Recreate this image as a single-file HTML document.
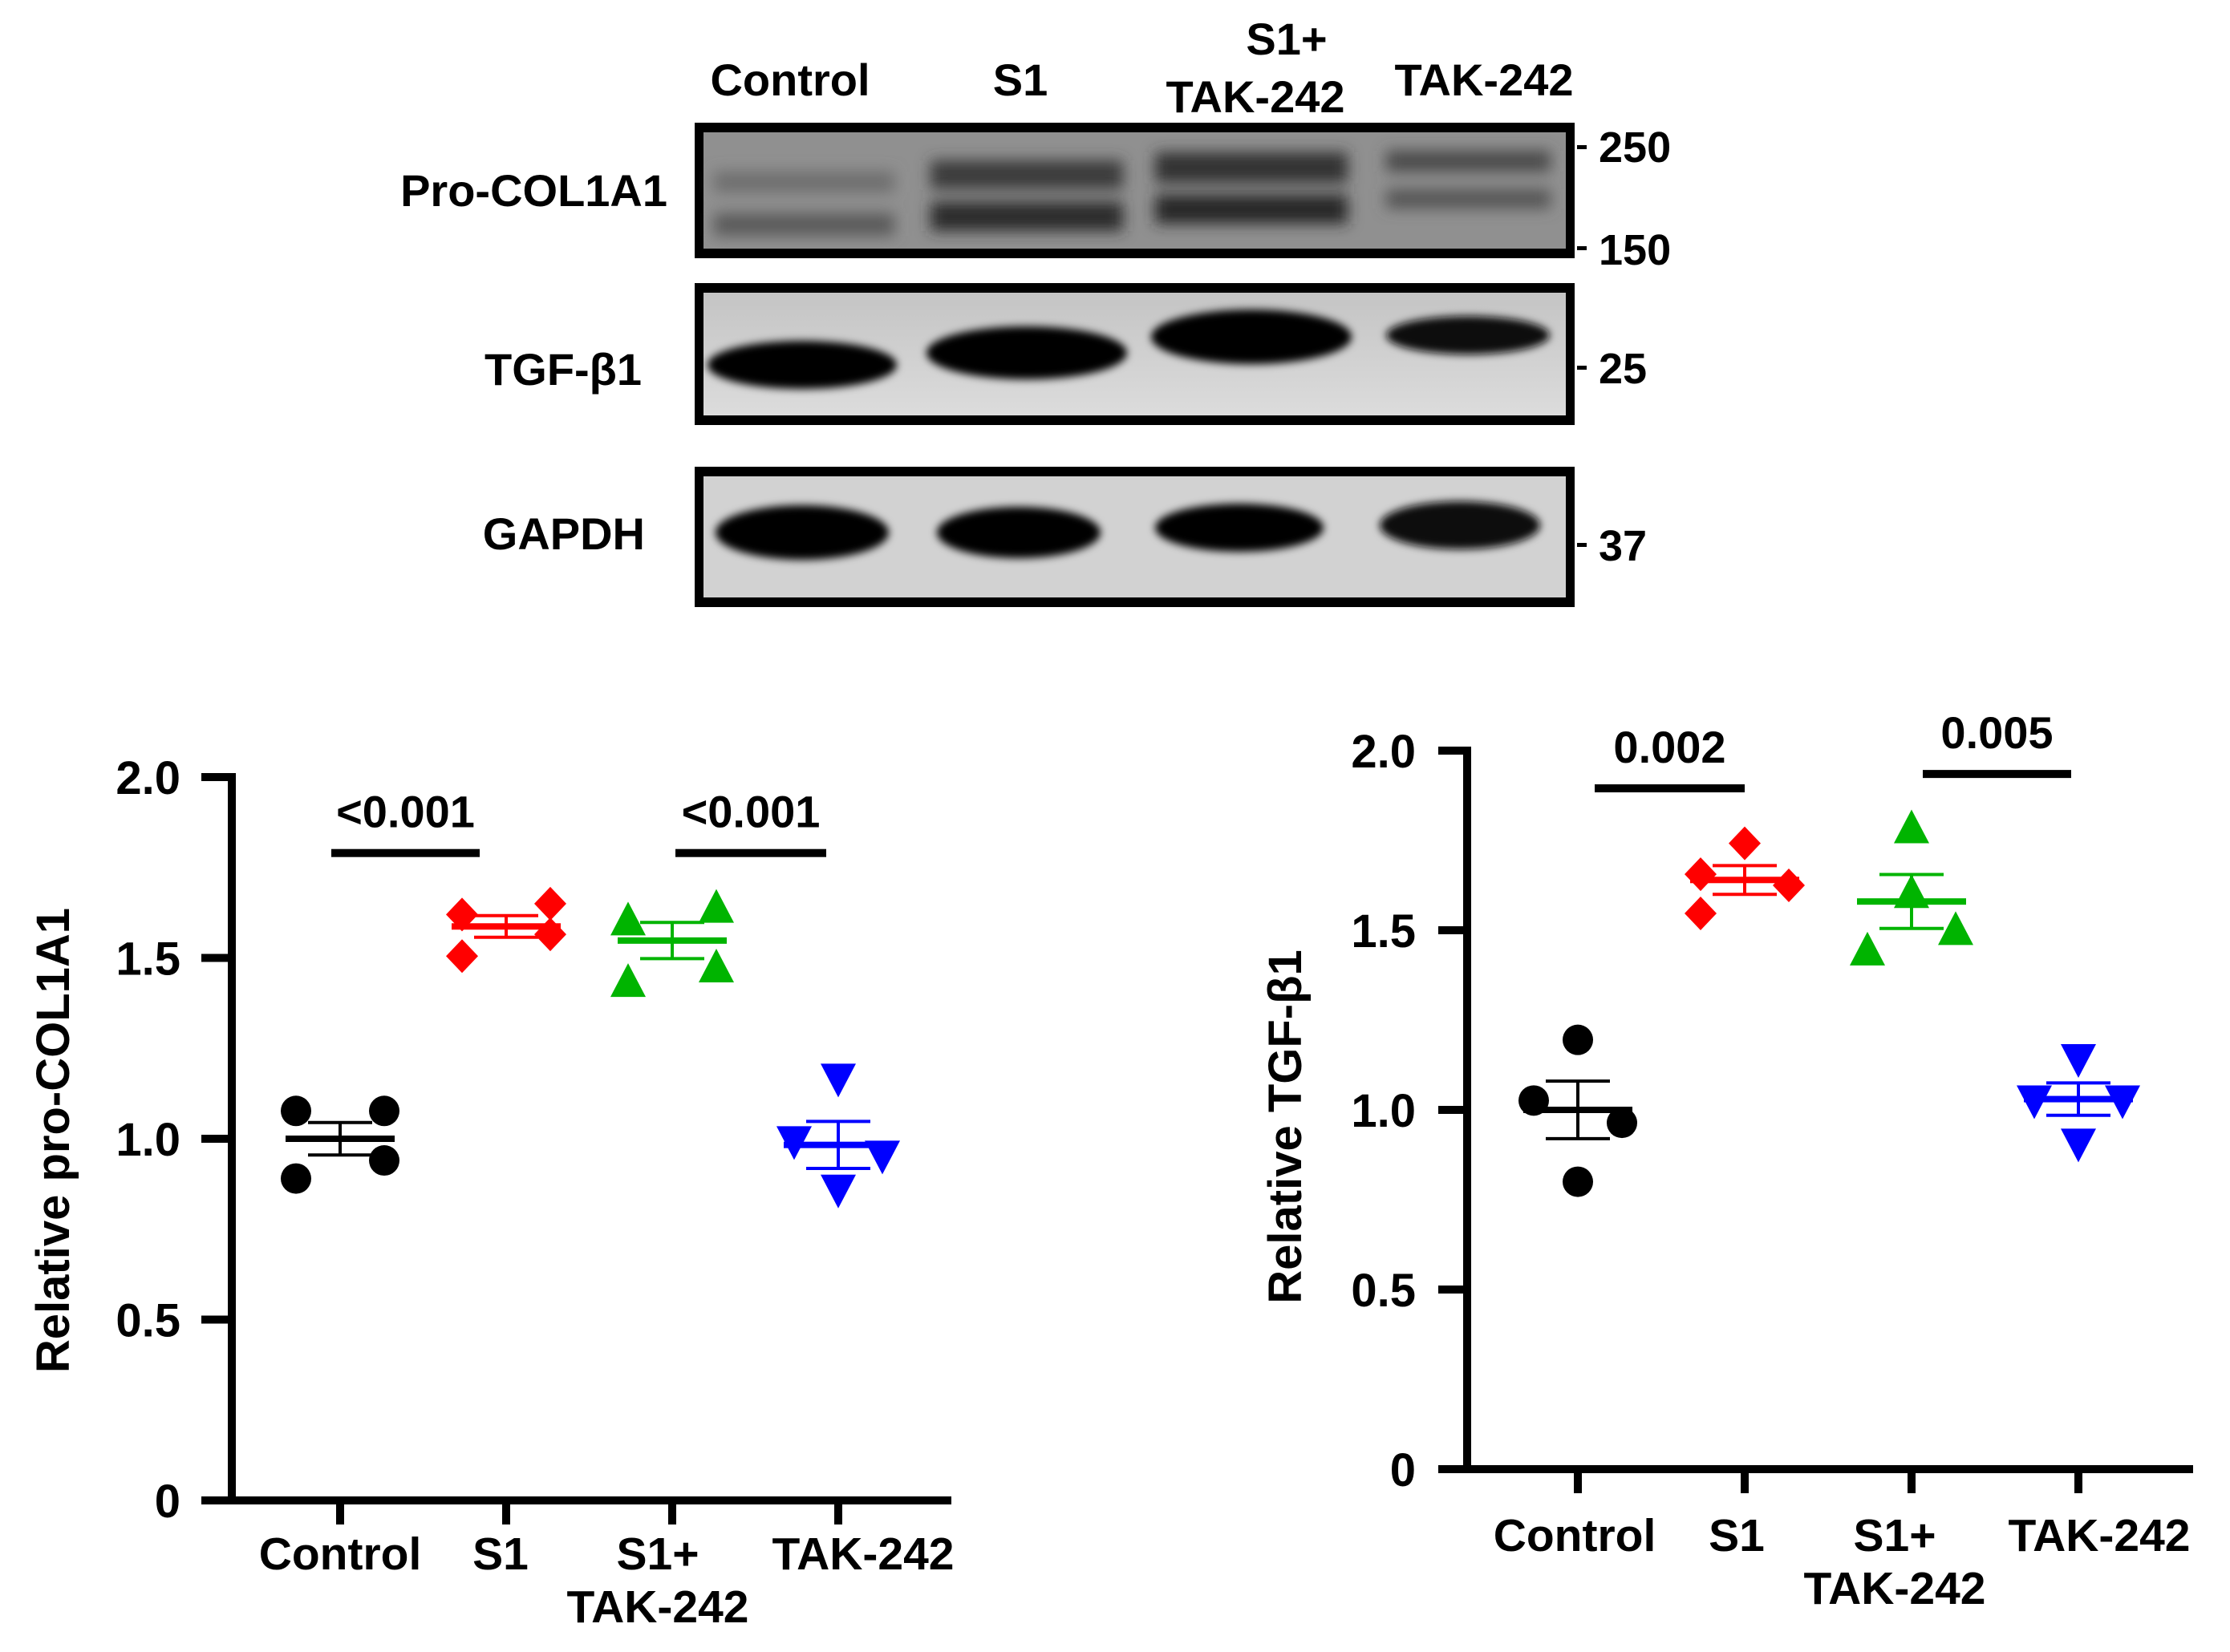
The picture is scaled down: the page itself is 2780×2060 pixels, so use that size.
<!DOCTYPE html>
<html><head><meta charset="utf-8"><style>
html,body{margin:0;padding:0;background:#fff;}
svg{display:block;font-family:"Liberation Sans",Arial,sans-serif;font-weight:bold;}
</style></head><body>
<svg id="fig" width="2780" height="2060" viewBox="0 0 2780 2060" xmlns="http://www.w3.org/2000/svg">
<defs>
<filter id="blur" x="-20%" y="-50%" width="140%" height="200%"><feGaussianBlur stdDeviation="9"/></filter>
<filter id="blur2" x="-20%" y="-50%" width="140%" height="200%"><feGaussianBlur stdDeviation="5"/></filter>
<linearGradient id="tgfbg" x1="0" y1="0" x2="0" y2="1"><stop offset="0" stop-color="#c4c4c4"/><stop offset="1" stop-color="#dcdcdc"/></linearGradient>
</defs>
<g id="blots">
  <text x="985" y="119" font-size="56" text-anchor="middle">Control</text>
  <text x="1272" y="119" font-size="56" text-anchor="middle">S1</text>
  <text x="1604" y="68" font-size="56" text-anchor="middle">S1+</text>
  <text x="1565" y="140" font-size="56" text-anchor="middle">TAK-242</text>
  <text x="1850" y="119" font-size="56" text-anchor="middle">TAK-242</text>

  <text x="832" y="257" font-size="56" text-anchor="end">Pro-COL1A1</text>
  <text x="800" y="480" font-size="56" text-anchor="end">TGF-β1</text>
  <text x="804" y="685" font-size="56" text-anchor="end">GAPDH</text>

  <g>
    <rect x="866" y="153" width="1097" height="169" fill="#000"/>
    <rect x="877" y="165" width="1075" height="145" fill="#909090"/>
    <g filter="url(#blur)">
      <rect x="890" y="214" width="225" height="26" fill="#6e6e6e"/>
      <rect x="890" y="266" width="225" height="28" fill="#5a5a5a"/>
      <rect x="1160" y="200" width="240" height="36" fill="#3a3a3a"/>
      <rect x="1160" y="252" width="240" height="36" fill="#2a2a2a"/>
      <rect x="1440" y="190" width="240" height="38" fill="#303030"/>
      <rect x="1440" y="243" width="240" height="36" fill="#252525"/>
      <rect x="1728" y="188" width="205" height="26" fill="#4a4a4a"/>
      <rect x="1728" y="236" width="205" height="24" fill="#555"/>
    </g>
  </g>
  <g>
    <rect x="866" y="353" width="1097" height="177" fill="#000"/>
    <rect x="877" y="365" width="1075" height="153" fill="url(#tgfbg)"/>
    <g filter="url(#blur2)">
      <ellipse cx="1000" cy="455" rx="118" ry="30" fill="#000"/>
      <ellipse cx="1280" cy="440" rx="125" ry="33" fill="#000"/>
      <ellipse cx="1560" cy="420" rx="125" ry="34" fill="#000"/>
      <ellipse cx="1830" cy="418" rx="102" ry="24" fill="#111"/>
    </g>
  </g>
  <g>
    <rect x="866" y="582" width="1097" height="175" fill="#000"/>
    <rect x="877" y="594" width="1075" height="151" fill="#d2d2d2"/>
    <g filter="url(#blur2)">
      <ellipse cx="1000" cy="664" rx="108" ry="34" fill="#000"/>
      <ellipse cx="1270" cy="664" rx="102" ry="32" fill="#000"/>
      <ellipse cx="1545" cy="658" rx="105" ry="30" fill="#000"/>
      <ellipse cx="1820" cy="655" rx="100" ry="30" fill="#111"/>
    </g>
  </g>
  <g font-size="54">
    <rect x="1966" y="181" width="12" height="5" fill="#000"/><text x="1993" y="202">250</text>
    <rect x="1966" y="307" width="12" height="5" fill="#000"/><text x="1993" y="330">150</text>
    <rect x="1966" y="456" width="12" height="5" fill="#000"/><text x="1993" y="478">25</text>
    <rect x="1966" y="677" width="12" height="5" fill="#000"/><text x="1993" y="699">37</text>
  </g>
</g>
<g id="chart1"></g>
<g id="chart2"></g>
</svg>
<script>
const categories = ["Control", "S1", "S1+\nTAK-242", "TAK-242"];
const colors = ["#000000", "#ff0000", "#00b400", "#0000ff"];
const shapes = ["circle", "diamond", "triangle", "invtriangle"];
const yTicks = [0, 0.5, 1.0, 1.5, 2.0];
const yTickLabels = ["0", "0.5", "1.0", "1.5", "2.0"];

const col1Values = [[1.077, 1.077, 0.94, 0.89], [1.62, 1.65, 1.565, 1.505], [1.60, 1.635, 1.47, 1.43], [1.17, 0.997, 0.957, 0.863]];
const col1Mean = [1.0, 1.587, 1.548, 0.983];
const col1Sem = [0.045, 0.03, 0.05, 0.065];
const col1Sig = [[0, 1, 1.79, "<0.001"], [2, 3, 1.79, "<0.001"]];

const tgfValues = [[1.195, 1.026, 0.964, 0.80], [1.742, 1.656, 1.625, 1.547], [1.78, 1.60, 1.497, 1.44], [1.145, 1.03, 1.03, 0.91]];
const tgfMean = [1.0, 1.64, 1.58, 1.03];
const tgfSem = [0.08, 0.04, 0.075, 0.045];
const tgfSig = [[0, 1, 1.895, "0.002"], [2, 3, 1.935, "0.005"]];

const NS = "http://www.w3.org/2000/svg";
function mk(parent, tag, attrs, text) {
  const e = document.createElementNS(NS, tag);
  for (const k in attrs) e.setAttribute(k, attrs[k]);
  if (text !== undefined) e.textContent = text;
  parent.appendChild(e);
  return e;
}

function drawChart(g, cfg, values, means, sems, sigs) {
  const yS = v => cfg.y0 - v * (cfg.y0 - cfg.y2) / 2;
  const xS = i => cfg.x0c + i * cfg.step;
  const ya = mk(g, "rect", {x: cfg.ax - 5, y: cfg.y2 - 5, width: 10, height: cfg.y0 - cfg.y2 + 10, fill: "#000"});
  
  
  const xa = mk(g, "rect", {x: cfg.axL, y: cfg.y0 - 5, width: cfg.axR - cfg.axL, height: 10, fill: "#000"});
  
  
  yTicks.forEach((t, k) => {
    const tk = mk(g, "rect", {x: cfg.axL, y: yS(t) - 5, width: cfg.ax - cfg.axL, height: 10, fill: "#000"});
    
    
    const tl = mk(g, "text", {x: cfg.ax - 64, y: yS(t) + 21, "font-size": 58, "text-anchor": "end"}, yTickLabels[k]);
    
    
  });
  const tt = mk(g, "text", {x: 0, y: 0, "font-size": 58, "text-anchor": "middle", transform: `translate(${cfg.titleX},${cfg.titleY}) rotate(-90)`}, cfg.title);
  
  
  categories.forEach((c, i) => {
    const x = xS(i);
    const tk = mk(g, "rect", {x: x - 5, y: cfg.y0, width: 10, height: 30, fill: "#000"});
    
    
    const lines = c.split("\n");
    lines.forEach((ln, j) => {
      const t = mk(g, "text", {x: x + cfg.lblOff[i], y: cfg.lblY + j * 66, "font-size": 57, "text-anchor": "middle"}, ln);
      
      
    });
    const col = colors[i];
    const grp = mk(g, "g", {});
    
    
    values[i].forEach((v, j) => {
      const px = x + cfg.jit[i][j] * 55, py = yS(v);
      let m;
      if (shapes[i] === "circle") m = mk(grp, "circle", {cx: px, cy: py, r: 19, fill: col});
      else if (shapes[i] === "diamond") m = mk(grp, "polygon", {points: `${px},${py-21} ${px+20},${py} ${px},${py+21} ${px-20},${py}`, fill: col});
      else if (shapes[i] === "triangle") m = mk(grp, "polygon", {points: `${px},${py-25} ${px+22},${py+17} ${px-22},${py+17}`, fill: col});
      else m = mk(grp, "polygon", {points: `${px},${py+25} ${px+22},${py-17} ${px-22},${py-17}`, fill: col});
      
      
    });
    const my = yS(means[i]), hi = yS(means[i] + sems[i]), lo = yS(means[i] - sems[i]);
    const mean = mk(grp, "rect", {x: x - 68, y: my - 4, width: 136, height: 8, fill: col});
    
    
    const eb = mk(grp, "path", {d: `M${x},${hi}V${lo}M${x-40},${hi}H${x+40}M${x-40},${lo}H${x+40}`, stroke: col, "stroke-width": 4, fill: "none"});
    
    
  });
  sigs.forEach((s, k) => {
    const x1 = xS(s[0]) + cfg.sigOff[k][0], x2 = xS(s[1]) + cfg.sigOff[k][1], y = yS(s[2]);
    const b = mk(g, "rect", {x: x1, y: y - 5, width: x2 - x1, height: 10, fill: "#000"});
    
    
    const t = mk(g, "text", {x: (x1 + x2) / 2, y: y - 32, "font-size": 56, "text-anchor": "middle"}, s[3]);
    
    
  });
}

drawChart(document.getElementById("chart1"),
  {ax: 289, axL: 251, axR: 1186, y0: 1871, y2: 969, x0c: 424, step: 207, title: "Relative pro-COL1A1", titleX: 86, titleY: 1422, lblY: 1957, lblOff: [0, -7, -18, 31],
   jit: [[-1, 1, 1, -1], [-1, 1, 1, -1], [-1, 1, 1, -1], [0, -1, 1, 0]], sigOff: [[-11, -33], [4, -15]]},
  col1Values, col1Mean, col1Sem, col1Sig);
drawChart(document.getElementById("chart2"),
  {ax: 1829, axL: 1793, axR: 2734, y0: 1832, y2: 936, x0c: 1967, step: 208, title: "Relative TGF-β1", titleX: 1622, titleY: 1405, lblY: 1934, lblOff: [-4, -10, -21, 26],
   jit: [[0, -1, 1, 0], [0, -1, 1, -1], [0, 0, 1, -1], [0, -1, 1, 0]], sigOff: [[21, 0], [14, -9]]},
  tgfValues, tgfMean, tgfSem, tgfSig);
</script>
</body></html>
